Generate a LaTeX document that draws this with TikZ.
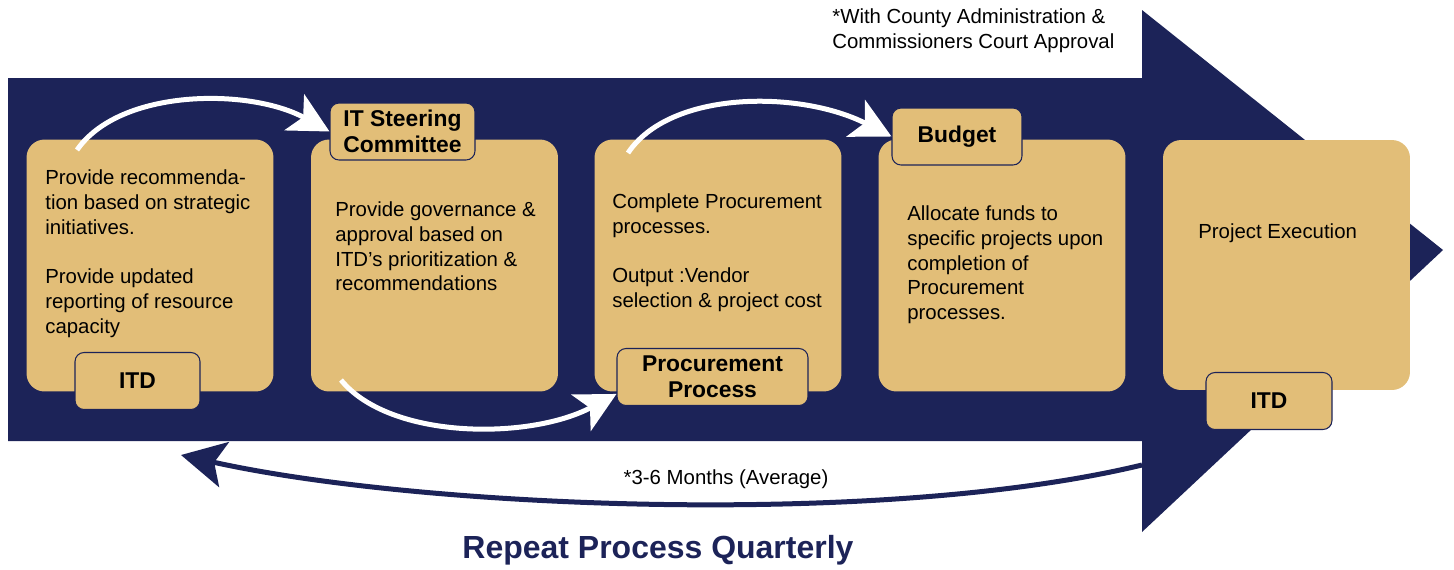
\documentclass[tikz,border=0pt]{standalone}
\usepackage{fontspec}
\setmainfont{Liberation Sans}
\usepackage{tikz}
\usepackage{xcolor}
\usetikzlibrary{arrows.meta}
\definecolor{navy}{RGB}{28,35,88}
\definecolor{tan}{RGB}{226,190,120}

\begin{document}
\begin{tikzpicture}[x = 0.02cm, y = -0.02cm,
  box/.style = {fill = tan, rounded corners = 0.36cm, minimum width = 4.94cm, minimum height = 5.04cm, inner sep = 0},
  tab/.style = {fill = tan, draw = navy, line width = .6pt, rounded corners = 0.18cm, minimum height = 1.14cm, inner sep = 0, align = center, font = \fontsize{13}{14.8}\selectfont\bfseries},
  txt/.style = {anchor = north west, inner sep = 0, align = left, font = \fontsize{11.6}{14.2}\selectfont},
  flow/.style = {white, line width = 0.1cm, -{Stealth[length = 0.8cm, width = 0.82cm, inset = 0.2cm]}},
  back/.style = {navy, line width = 0.1cm, -{Stealth[length = 0.88cm, width = 0.92cm, inset = 0.2cm]}}]
  \useasboundingbox (0, 0) rectangle (1454, 569);
  \fill [navy] (8, 78) -- (1142, 78) -- (1142, 10) -- (1443, 250) -- (1142, 532) -- (1142, 441) -- (8, 441) -- cycle;
  \node[box] (b1) at (150, 265.5) {};
  \node[box] (b2) at (434.5, 265.5) {};
  \node[box] (b3) at (718, 265.5) {};
  \node[box] (b4) at (1002, 265.5) {};
  \node[box, minimum height = 5cm] (b5) at (1286.5, 265) {};
  \coordinate (f1) at (77, 150);
  \coordinate (f2) at (341, 380);
  \coordinate (f3) at (628, 153);
  \coordinate (r1) at (1142, 465);
  \coordinate (r2) at (181, 455);
  \node[tab, minimum width = 2.9cm] (steer) at (402.5, 131.5) {IT Steering\\Committee};
  \node[tab, minimum width = 2.5cm] (itd1) at (137.5, 381) {ITD};
  \node[tab, minimum width = 3.82cm] (proc) at (712.5, 377) {Procurement\\Process};
  \node[tab, minimum width = 2.6cm] (budget) at (957, 136.5) {Budget};
  \node[tab, minimum width = 2.52cm] (itd2) at (1269, 401) {ITD};
  \draw [flow] (f1) .. controls (120, 88) and (250, 88) .. (steer.west);
  \draw [flow] (f2) .. controls (390, 440) and (530, 440) .. (proc.190);
  \draw [flow] (f3) .. controls (670, 90) and (800, 90) .. (budget.west);
  \draw [back] (r1) .. controls (880, 528) and (420, 508) .. (r2);
  \node[txt] (t1) at (45, 169) {Provide recommenda-\\tion based on strategic\\initiatives.\\[14.2pt]Provide updated\\reporting of resource\\capacity};
  \node[txt] (t2) at (335, 201) {Provide governance \&\\approval based on\\ITD's prioritization \&\\recommendations};
  \node[txt] (t3) at (612, 193) {Complete Procurement\\processes.\\[14.2pt]Output :Vendor\\selection \& project cost};
  \node[txt] (t4) at (907, 205) {Allocate funds to\\specific projects upon\\completion of\\Procurement\\processes.};
  \node[txt] (t5) at (1198, 223) {Project Execution};
  \node[txt] (note) at (832, 8) {*With County Administration \&\\Commissioners Court Approval};
  \node[inner sep = 0, font = \fontsize{11.6}{14}\selectfont] (avg) at (726, 479) {*3-6 Months (Average)};
  \node[inner sep = 0, text = navy, font = \fontsize{18.2}{20}\selectfont\bfseries] (repeat) at (658, 550) {Repeat Process Quarterly};
\end{tikzpicture}
\end{document}
